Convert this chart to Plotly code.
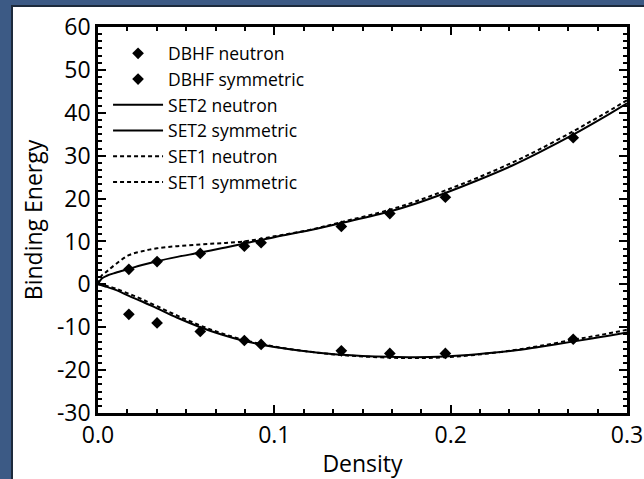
import plotly.graph_objects as go

# DBHF data points
x_dbhf = [0.0175, 0.0335, 0.058, 0.083, 0.0925, 0.138, 0.1655, 0.197, 0.2695]
dbhf_neutron = [3.5, 5.3, 7.2, 8.9, 9.7, 13.5, 16.5, 20.3, 34.2]
dbhf_symmetric = [-7.0, -9.0, -11.0, -13.1, -14.0, -15.5, -16.1, -16.1, -12.8]

# model curves
x_curve = [0, 0.002, 0.005, 0.01, 0.0175, 0.025, 0.0335, 0.045, 0.058, 0.07, 0.083,
           0.1, 0.12, 0.138, 0.1655, 0.18, 0.197, 0.215, 0.235, 0.25, 0.27, 0.285, 0.3]
set2_neutron = [0.0, 1.3, 2.0, 2.7, 3.6, 4.5, 5.4, 6.4, 7.4, 8.4, 9.5,
                11.0, 12.6, 14.3, 17.0, 18.8, 21.3, 24.2, 27.7, 30.7, 35.0, 38.5, 42.2]
set1_neutron = [0.0, 2.0, 3.0, 4.7, 6.8, 7.7, 8.4, 8.9, 9.3, 9.6, 10.0,
                11.2, 12.7, 14.5, 17.4, 19.3, 21.9, 24.8, 28.4, 31.4, 35.8, 39.3, 42.9]
set2_symmetric = [0.0, -0.2, -0.6, -1.3, -2.7, -4.0, -5.6, -7.8, -10.0, -11.7, -13.2,
                  -14.6, -15.7, -16.4, -16.9, -17.0, -16.8, -16.3, -15.5, -14.6, -13.3, -12.3, -11.2]
set1_symmetric = [0.0, -0.1, -0.4, -1.0, -2.2, -3.5, -5.1, -7.3, -9.6, -11.4, -13.0,
                  -14.5, -15.7, -16.5, -17.1, -17.2, -17.0, -16.4, -15.4, -14.4, -12.9, -11.8, -10.6]

# tick labels
y_tickvals = [-30, -20, -10, 0, 10, 20, 30, 40, 50, 60]
y_ticktext = ["-30", "-20", "-10", "0", "10", "20", "30", "40", "50", "60"]
x_tickvals = [0.0, 0.1, 0.2, 0.3]
x_ticktext = ["0.0", "0.1", "0.2", "0.3"]

FONT = "Open Sans"

fig = go.Figure()
fig.add_trace(go.Scatter(x=x_dbhf, y=dbhf_neutron, mode="markers", name="DBHF neutron",
                         marker=dict(symbol="diamond", size=9, color="black"), legendgroup="a"))
fig.add_trace(go.Scatter(x=x_dbhf, y=dbhf_symmetric, mode="markers", name="DBHF symmetric",
                         marker=dict(symbol="diamond", size=9, color="black"), legendgroup="b"))
fig.add_trace(go.Scatter(x=x_curve, y=set2_neutron, mode="lines", name="SET2 neutron",
                         line=dict(color="black", width=2, shape="spline"), legendgroup="c"))
fig.add_trace(go.Scatter(x=x_curve, y=set2_symmetric, mode="lines", name="SET2 symmetric",
                         line=dict(color="black", width=2, shape="spline"), legendgroup="d"))
fig.add_trace(go.Scatter(x=x_curve, y=set1_neutron, mode="lines", name="SET1 neutron",
                         line=dict(color="black", width=2, dash="4px,3px", shape="spline"), legendgroup="e"))
fig.add_trace(go.Scatter(x=x_curve, y=set1_symmetric, mode="lines", name="SET1 symmetric",
                         line=dict(color="black", width=2, dash="4px,3px", shape="spline"), legendgroup="f"))

axis_common = dict(
    showline=True, linecolor="black", linewidth=2.5, mirror="ticks",
    ticks="inside", ticklen=8, tickwidth=2, tickcolor="black",
    showgrid=False, zeroline=False, automargin=False,
    tickfont=dict(family=FONT, size=23, color="black"),
)

fig.update_xaxes(range=[0, 0.3], tickvals=x_tickvals, ticktext=x_ticktext,
                 minor=dict(dtick=0.1 / 6, ticks="inside", ticklen=4, tickwidth=1.5, tickcolor="black"),
                 title=dict(text="Density", font=dict(family=FONT, size=23, color="black"), standoff=7),
                 **axis_common)
fig.update_yaxes(range=[-30, 60], tickvals=y_tickvals, ticktext=y_ticktext,
                 minor=dict(tick0=0, dtick=10 / 6, ticks="inside", ticklen=4, tickwidth=1.5, tickcolor="black"),
                 title=dict(text="Binding Energy", font=dict(family=FONT, size=23, color="black"), standoff=8),
                 **axis_common)

# white panel on blue slide background
fig.add_shape(type="rect", xref="paper", yref="paper",
              x0=(12 - 98) / 529, x1=1.2, y0=-0.4, y1=(413 - 6) / 386,
              fillcolor="white", line=dict(color="#1c2a3c", width=2), layer="below")

fig.update_layout(
    width=644, height=479,
    margin=dict(l=98, r=17, t=27, b=66, autoexpand=False),
    paper_bgcolor="#3c5a85", plot_bgcolor="white",
    font=dict(family=FONT, color="black"),
    showlegend=True,
    legend=dict(x=0.019, y=0.978, xanchor="left", yanchor="top",
                bgcolor="rgba(0,0,0,0)", borderwidth=0,
                font=dict(family=FONT, size=17.5, color="black"),
                itemwidth=50, tracegroupgap=0),
)

fig.write_html("out.html")
